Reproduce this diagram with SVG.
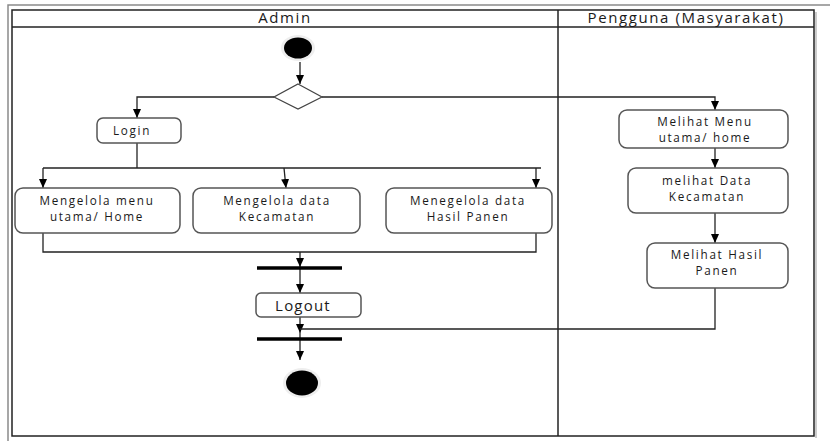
<svg xmlns="http://www.w3.org/2000/svg" width="830" height="441" viewBox="0 0 830 441">
<style>
.frame{fill:none;stroke:#222;stroke-width:1.5}
.outer{fill:none;stroke:#8a8a8a;stroke-width:1.5}
.box{fill:#fff;stroke:#555;stroke-width:1.5}
.hdr{font-family:"Open Sans","DejaVu Sans",sans-serif;font-size:15px;letter-spacing:1.6px;fill:#1a1a1a;text-anchor:middle}
.t{font-family:"Open Sans","DejaVu Sans",sans-serif;font-size:11.7px;letter-spacing:1.7px;fill:#1a1a1a;text-anchor:middle}
.c{fill:none;stroke:#222;stroke-width:1.3}
.bar{stroke:#000;stroke-width:3.5}
</style>
<defs>
<marker id="arr" markerUnits="userSpaceOnUse" markerWidth="10" markerHeight="8" refX="9" refY="4" orient="auto">
<path d="M0,0 L9,4 L0,8 z" fill="#000"/>
</marker>
</defs>
<rect width="830" height="441" fill="#fff"/>
<g id="frame">
<polyline class="outer" points="8,441 8,5 830,5"/>
<rect class="frame" x="12" y="10" width="802" height="426"/>
<line class="frame" x1="12" y1="27" x2="814" y2="27"/>
<line class="frame" x1="558" y1="10" x2="558" y2="436"/>
<line x1="816" y1="12" x2="816" y2="438" stroke="#999" stroke-width="1"/>
<text class="hdr" x="285" y="23">Admin</text>
<text class="hdr" x="686" y="23">Pengguna (Masyarakat)</text>
</g>
<g id="connectors">
<line class="c" x1="300" y1="62" x2="300" y2="84" marker-end="url(#arr)"/>
<polyline class="c" points="274,97 137,97 137,118" marker-end="url(#arr)"/>
<polyline class="c" points="322,97 715,97 715,110" marker-end="url(#arr)"/>
<line class="c" x1="137" y1="143" x2="137" y2="168"/>
<line class="c" x1="43" y1="168" x2="541" y2="168"/>
<line class="c" x1="43" y1="168" x2="43" y2="188" marker-end="url(#arr)"/>
<line class="c" x1="284" y1="168" x2="286" y2="188" marker-end="url(#arr)"/>
<line class="c" x1="536" y1="168" x2="536" y2="188" marker-end="url(#arr)"/>
<polyline class="c" points="43,233 43,252 536,252 536,233"/>
<line class="c" x1="300" y1="252" x2="300" y2="267" marker-end="url(#arr)"/>
<line class="c" x1="300" y1="268" x2="300" y2="293" marker-end="url(#arr)"/>
<line class="c" x1="300" y1="317" x2="300" y2="333" marker-end="url(#arr)"/>
<polyline class="c" points="300,329 715,329 715,288"/>
<line class="c" x1="300" y1="333" x2="300" y2="360" marker-end="url(#arr)"/>
<line class="c" x1="715" y1="148" x2="715" y2="168" marker-end="url(#arr)"/>
<line class="c" x1="715" y1="213" x2="715" y2="243" marker-end="url(#arr)"/>
</g>
<g id="start">
<ellipse cx="298" cy="48" rx="17" ry="13" fill="#eee"/>
<ellipse cx="298" cy="48" rx="14" ry="10.5" fill="#000"/>
</g>
<g id="decision">
<polygon points="298,84 322,97 298,109 274,97" fill="#fff" stroke="#444" stroke-width="1.2"/>
</g>
<g id="login">
<rect class="box" x="97" y="118" width="84" height="25" rx="6"/>
<text class="t" x="132" y="135">Login</text>
</g>
<g id="mengelola-menu">
<rect class="box" x="15" y="188" width="165" height="45" rx="8"/>
<text class="t" x="97" y="205">Mengelola menu</text>
<text class="t" x="97" y="221">utama/ Home</text>
</g>
<g id="mengelola-kecamatan">
<rect class="box" x="193" y="188" width="167" height="45" rx="8"/>
<text class="t" x="277" y="205">Mengelola data</text>
<text class="t" x="277" y="221">Kecamatan</text>
</g>
<g id="mengelola-panen">
<rect class="box" x="386" y="188" width="166" height="45" rx="8"/>
<text class="t" x="468" y="205">Menegelola data</text>
<text class="t" x="468" y="221">Hasil Panen</text>
</g>
<g id="fork-join-1">
<line class="bar" x1="257" y1="268" x2="342" y2="268"/>
</g>
<g id="logout">
<rect class="box" x="256" y="293" width="105" height="24" rx="5"/>
<text class="t" x="303" y="311" style="font-size:15px;letter-spacing:1.2px">Logout</text>
</g>
<g id="fork-join-2">
<line class="bar" x1="257" y1="339" x2="342" y2="339"/>
</g>
<g id="end">
<ellipse cx="302" cy="383" rx="19" ry="15" fill="#eee"/>
<ellipse cx="302" cy="383" rx="16" ry="12.5" fill="#000"/>
</g>
<g id="melihat-menu">
<rect class="box" x="619" y="110" width="169" height="38" rx="8"/>
<text class="t" x="705" y="126">Melihat Menu</text>
<text class="t" x="705" y="142">utama/ home</text>
</g>
<g id="melihat-kecamatan">
<rect class="box" x="628" y="168" width="160" height="45" rx="8"/>
<text class="t" x="707" y="185">melihat Data</text>
<text class="t" x="707" y="201">Kecamatan</text>
</g>
<g id="melihat-panen">
<rect class="box" x="647" y="243" width="141" height="45" rx="8"/>
<text class="t" x="717" y="259">Melihat Hasil</text>
<text class="t" x="717" y="275">Panen</text>
</g>
</svg>
